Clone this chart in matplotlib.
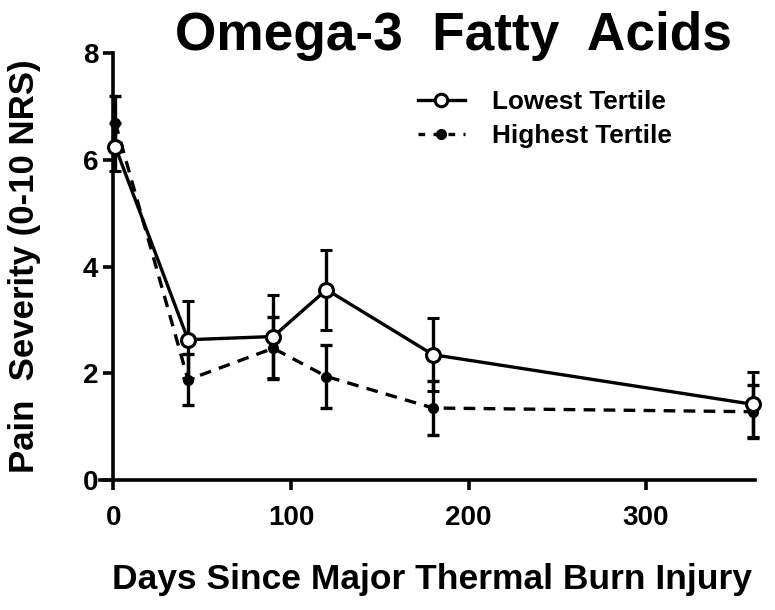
import matplotlib
matplotlib.use("Agg")
import matplotlib.pyplot as plt
from matplotlib.lines import Line2D

days = [1, 42, 90, 120, 180, 360]
lowest_mean = [6.25, 2.63, 2.69, 3.57, 2.35, 1.42]
lowest_err = [0.45, 0.72, 0.77, 0.75, 0.69, 0.61]
highest_mean = [6.70, 1.88, 2.47, 1.94, 1.35, 1.28]
highest_err = [0.50, 0.48, 0.58, 0.59, 0.50, 0.50]

xticks = [0, 100, 200, 300]
yticks = [0, 2, 4, 6, 8]

W, H = 775, 610
fig = plt.figure(figsize=(W / 100, H / 100), dpi=100)
left, right, bottom, top = 100, 755, 480, 53.3
ax = fig.add_axes([left / W, (H - bottom) / H, (right - left) / W, (bottom - top) / H])
ax.set_xlim(-7.6, 361.4)
ax.set_ylim(0, 8)

font = "Liberation Sans"
LW = 2.4

ax.errorbar(days, lowest_mean, yerr=lowest_err, color="black", lw=LW,
            elinewidth=LW, capsize=4.6, capthick=LW, marker="o", ms=10,
            mfc="white", mec="black", mew=2.2, clip_on=False, zorder=4)
ax.errorbar(days, highest_mean, yerr=highest_err, color="black", lw=LW,
            ls=(0, (3.5, 2.5)), elinewidth=LW, capsize=4.6, capthick=LW,
            marker="o", ms=7, mfc="black", mec="black", clip_on=False, zorder=3)

for s in ["top", "right"]:
    ax.spines[s].set_visible(False)
ax.spines["left"].set_position(("data", 0))
for s in ["left", "bottom"]:
    ax.spines[s].set_linewidth(2.6)
ax.tick_params(width=2.6, length=7, direction="out")
ax.set_xticks(xticks)
ax.set_yticks(yticks)
ax.set_xticklabels([str(t) for t in xticks], fontsize=20, fontweight="bold", family=font)
ax.set_yticklabels([str(t) for t in yticks], fontsize=20, fontweight="bold", family=font)
ax.tick_params(axis="x", pad=11)
ax.tick_params(axis="y", pad=4)

fig.text(453 / W, 1 - 36 / H, "Omega-3  Fatty  Acids", ha="center", va="center",
         fontsize=38.3, fontweight="bold", family=font)
fig.text(432 / W, 1 - 580 / H, "Days Since Major Thermal Burn Injury", ha="center",
         va="center", fontsize=25.5, fontweight="bold", family=font)
fig.text(25 / W, 1 - 266 / H, "Pain  Severity (0-10 NRS)", ha="center", va="center",
         rotation=90, fontsize=25, fontweight="bold", family=font)

h1 = Line2D([], [], color="black", lw=LW, marker="o", ms=9, mfc="white", mec="black", mew=2.2)
h2 = Line2D([], [], color="black", lw=LW, ls=(0, (2, 2.5)), marker="o", ms=7, mfc="black")
leg = fig.legend([h1, h2], ["Lowest Tertile", "Highest Tertile"], loc="upper left",
                 bbox_to_anchor=(418 / W, 1 - 90 / H), frameon=False, handlelength=1.8,
                 handletextpad=1.05, labelspacing=0.38, borderpad=0, borderaxespad=0,
                 prop={"family": font, "weight": "bold", "size": 18.8})

fig.savefig("out.png", dpi=100)
